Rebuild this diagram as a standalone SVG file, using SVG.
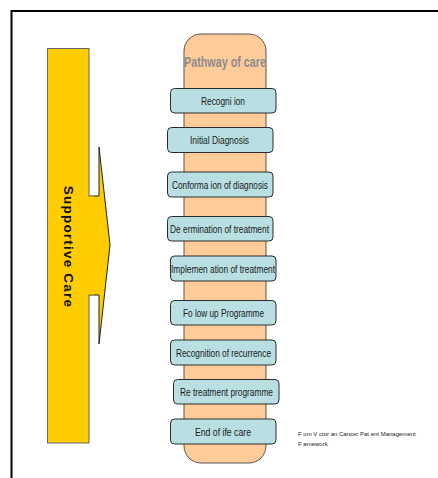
<svg xmlns="http://www.w3.org/2000/svg" width="438" height="478" viewBox="0 0 438 478">
<style>
.box{fill:#B9DFE2;stroke:#2b2b2b;stroke-width:1}
.lbl{font-family:"Liberation Sans",Arial,sans-serif;font-size:11.5px;fill:#1a1a1a;text-anchor:middle}
.note{font-family:"Liberation Sans",Arial,sans-serif;font-size:6px;fill:#222222}
</style>
<rect x="0" y="0" width="438" height="478" fill="#ffffff"/>
<rect x="11.5" y="11" width="440" height="480" fill="none" stroke="#000" stroke-width="2"/>
<g id="supportive-care">
<path d="M89,196 L99,196 L99,147 L110,245 L99,344 L99,295 L89,295 Z" fill="#FFCC00" stroke="#222" stroke-width="1"/>
<rect x="47.5" y="48.5" width="41.5" height="394.5" fill="#FFCC00" stroke="#666" stroke-width="1"/>
<rect x="84" y="196.5" width="10" height="98" fill="#FFCC00"/>
<text transform="translate(64,247) rotate(90)" font-family="'Liberation Sans',Arial,sans-serif" font-size="13.5" font-weight="bold" letter-spacing="1.2" text-anchor="middle" fill="#111">Supportive Care</text>
</g>
<g id="pathway">
<rect x="184" y="34" width="82" height="429" rx="17" ry="17" fill="#FFCC99" stroke="#555" stroke-width="1"/>
<text x="225" y="67" font-family="'Liberation Sans',Arial,sans-serif" font-size="14" font-weight="bold" fill="#8c8c8c" text-anchor="middle" textLength="82" lengthAdjust="spacingAndGlyphs">Pathway of care</text>
</g>
<g id="n1"><rect class="box" x="170.5" y="88.5" width="105.5" height="24.5" rx="4"/><text class="lbl" x="223" y="105" textLength="44" lengthAdjust="spacingAndGlyphs">Recogni ion</text></g>
<g id="n2"><rect class="box" x="167.5" y="127.5" width="105.5" height="25" rx="4"/><text class="lbl" x="219.5" y="144" textLength="59" lengthAdjust="spacingAndGlyphs">Initial Diagnosis</text></g>
<g id="n3"><rect class="box" x="167.5" y="172" width="105.5" height="25" rx="4"/><text class="lbl" x="220" y="188.5" textLength="96" lengthAdjust="spacingAndGlyphs">Conforma ion of diagnosis</text></g>
<g id="n4"><rect class="box" x="167.5" y="216.5" width="105.5" height="24.5" rx="4"/><text class="lbl" x="219.5" y="233" textLength="99" lengthAdjust="spacingAndGlyphs">De ermination of treatment</text></g>
<g id="n5"><rect class="box" x="170.5" y="256" width="105.5" height="25" rx="4"/><text class="lbl" x="223" y="272.5" textLength="104" lengthAdjust="spacingAndGlyphs">Implemen ation of treatment</text></g>
<g id="n6"><rect class="box" x="170.5" y="300.5" width="105.5" height="24.5" rx="4"/><text class="lbl" x="223.5" y="317" textLength="81" lengthAdjust="spacingAndGlyphs">Fo low up Programme</text></g>
<g id="n7"><rect class="box" x="170.5" y="340" width="105.5" height="25" rx="4"/><text class="lbl" x="223.5" y="356.5" textLength="95" lengthAdjust="spacingAndGlyphs">Recognition of recurrence</text></g>
<g id="n8"><rect class="box" x="173.5" y="379.5" width="105.5" height="24.5" rx="4"/><text class="lbl" x="226.5" y="396" textLength="93" lengthAdjust="spacingAndGlyphs">Re treatment programme</text></g>
<g id="n9"><rect class="box" x="170.5" y="419" width="105.5" height="25" rx="4"/><text class="lbl" x="223" y="435.5" textLength="56" lengthAdjust="spacingAndGlyphs">End of ife care</text></g>
<g id="connectors"></g>
<g id="source-note">
<text class="note" x="298" y="436">F om V ctor an Cancer Pat ent Management</text>
<text class="note" x="298" y="446">F amework</text>
</g>
</svg>
